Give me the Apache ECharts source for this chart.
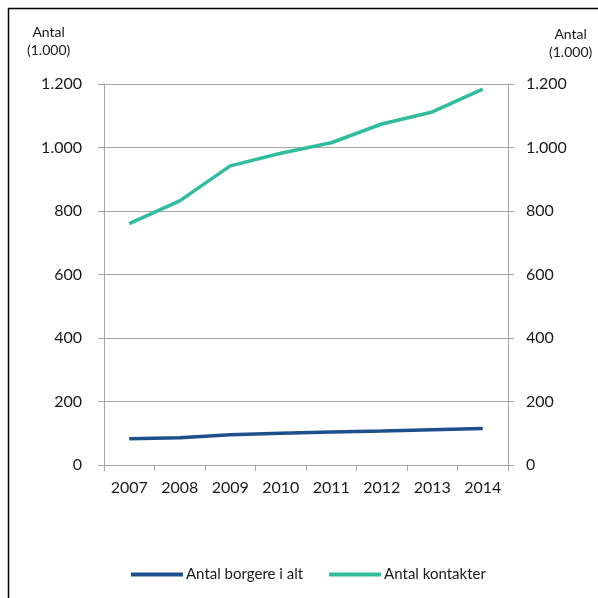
<!DOCTYPE html>
<html>
<head>
<meta charset="utf-8">
<style>
  html, body { margin: 0; padding: 0; background: #fff; }
  #chart { width: 598px; height: 598px; }
</style>
<script src="https://cdn.jsdelivr.net/npm/echarts@6/dist/echarts.min.js"></script>
</head>
<body>
<div id="chart"></div>
<script>
const years = ['2007', '2008', '2009', '2010', '2011', '2012', '2013', '2014'];
const borgere = [83, 86, 95, 100, 104, 107, 111, 115];
const kontakter = [760, 832, 942, 982, 1015, 1074, 1112, 1184];
const yTicks = [0, 200, 400, 600, 800, 1000, 1200];
const seriesNames = ['Antal borgere i alt', 'Antal kontakter'];
const axisTitle = 'Antal\n(1.000)';

const FONT = 'Lato, "Open Sans", sans-serif';
const TEXT = '#1a1a1a';
const GRID = '#a6a6a6';

const fmt = v => String(v).replace(/\B(?=(\d{3})+(?!\d))/g, '.');

function valueAxis(position) {
  return {
    type: 'value',
    position: position,
    min: yTicks[0],
    max: yTicks[yTicks.length - 1],
    interval: yTicks[1] - yTicks[0],
    axisLine: { show: true, lineStyle: { color: GRID, width: 1 } },
    axisTick: { show: true, length: 6, lineStyle: { color: GRID } },
    splitLine: { show: position === 'left', lineStyle: { color: GRID, width: 1 } },
    axisLabel: {
      color: TEXT, fontFamily: FONT, fontSize: 16,
      margin: position === 'left' ? 22 : 18,
      formatter: fmt
    }
  };
}

const chart = echarts.init(document.getElementById('chart'), null, { renderer: 'canvas' });
chart.setOption({
  animation: false,
  backgroundColor: '#fff',
  grid: { left: 104, right: 90, top: 84, bottom: 133, containLabel: false },
  graphic: [
    {
      type: 'rect',
      shape: { x: 8.5, y: 8.5, width: 592, height: 592 },
      style: { fill: 'none', stroke: '#000', lineWidth: 1.5 },
      silent: true
    },
    {
      type: 'text', left: 27, top: 23,
      style: { text: axisTitle, font: '14px ' + FONT, fill: TEXT, textAlign: 'center', lineHeight: 18 }
    },
    {
      type: 'text', left: 549, top: 25,
      style: { text: axisTitle, font: '14px ' + FONT, fill: TEXT, textAlign: 'center', lineHeight: 18 }
    }
  ],
  legend: {
    data: seriesNames,
    left: 126,
    top: 562,
    itemWidth: 52,
    itemHeight: 4,
    itemGap: 26,
    icon: 'rect',
    textStyle: { color: TEXT, fontFamily: FONT, fontSize: 15, padding: [0, 0, 0, -2] }
  },
  xAxis: {
    type: 'category',
    data: years,
    boundaryGap: true,
    axisLine: { show: true, lineStyle: { color: GRID, width: 1 } },
    axisTick: { show: true, length: 6, alignWithLabel: false, lineStyle: { color: GRID } },
    axisLabel: { color: TEXT, fontFamily: FONT, fontSize: 16, margin: 15 }
  },
  yAxis: [valueAxis('left'), valueAxis('right')],
  series: [
    {
      name: seriesNames[0], type: 'line', data: borgere, yAxisIndex: 0,
      symbol: 'none', color: '#1f4e8c',
      lineStyle: { width: 3.5, color: '#1f4e8c' }
    },
    {
      name: seriesNames[1], type: 'line', data: kontakter, yAxisIndex: 0,
      symbol: 'none', color: '#31bc9f',
      lineStyle: { width: 3.5, color: '#31bc9f' }
    }
  ]
});
</script>
</body>
</html>
